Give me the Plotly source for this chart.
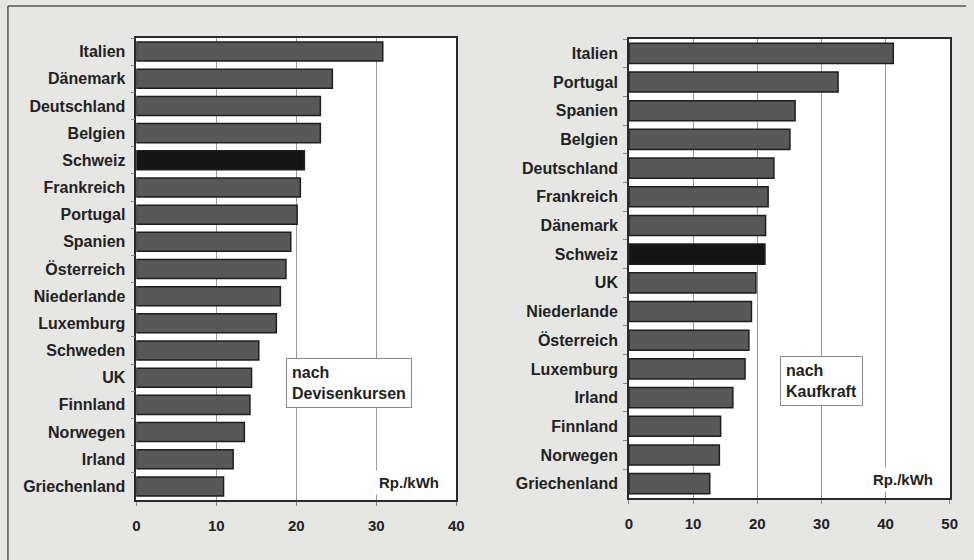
import plotly.graph_objects as go

# Strompreise Haushalte, Rp./kWh
laender_devisen = ["Italien", "Dänemark", "Deutschland", "Belgien", "Schweiz",
                   "Frankreich", "Portugal", "Spanien", "Österreich", "Niederlande",
                   "Luxemburg", "Schweden", "UK", "Finnland", "Norwegen", "Irland",
                   "Griechenland"]
werte_devisen = [30.8, 24.5, 23.0, 23.0, 21.0, 20.5, 20.1, 19.3, 18.7, 18.0,
                 17.5, 15.3, 14.4, 14.2, 13.5, 12.1, 10.9]

laender_kaufkraft = ["Italien", "Portugal", "Spanien", "Belgien", "Deutschland",
                     "Frankreich", "Dänemark", "Schweiz", "UK", "Niederlande",
                     "Österreich", "Luxemburg", "Irland", "Finnland", "Norwegen",
                     "Griechenland"]
werte_kaufkraft = [41.2, 32.6, 25.9, 25.1, 22.6, 21.7, 21.3, 21.2, 19.8, 19.1,
                   18.7, 18.1, 16.2, 14.3, 14.1, 12.6]

ticks_links = [0, 10, 20, 30, 40]
ticks_rechts = [0, 10, 20, 30, 40, 50]

W, H = 974, 560
FONT = "Liberation Sans"
BAR = "#585858"
HIGHLIGHT = "#151515"


def farben(laender):
    return [HIGHLIGHT if l == "Schweiz" else BAR for l in laender]


fig = go.Figure()

fig.add_trace(go.Bar(
    x=werte_devisen, y=laender_devisen, orientation="h",
    marker=dict(color=farben(laender_devisen), line=dict(color="#1e1e1e", width=1.5)),
    xaxis="x", yaxis="y", hoverinfo="x+y",
))
fig.add_trace(go.Bar(
    x=werte_kaufkraft, y=laender_kaufkraft, orientation="h",
    marker=dict(color=farben(laender_kaufkraft), line=dict(color="#1e1e1e", width=1.5)),
    xaxis="x2", yaxis="y2", hoverinfo="x+y",
))

xstyle = dict(showline=True, linecolor="#2a2a2a", linewidth=1.5, mirror=True,
              showgrid=True, gridcolor="#9a9a9a", gridwidth=1, zeroline=False,
              ticks="outside", ticklen=4, tickcolor="#888", ticklabelstandoff=7,
              tickfont=dict(family=FONT, size=15, color="#222", weight="bold"),
              fixedrange=True)
ystyle = dict(showline=True, linecolor="#2a2a2a", linewidth=1.5, mirror=True,
              showgrid=False, type="category", autorange="reversed",
              ticks="outside", ticklen=4, tickcolor="#888", tickson="boundaries",
              ticklabelstandoff=6,
              tickfont=dict(family=FONT, size=16, color="#222", weight="bold"),
              fixedrange=True)


def px_x(v):
    return v / W


def px_y(v):
    return 1 - v / H


fig.update_layout(
    width=W, height=H,
    margin=dict(l=0, r=0, t=0, b=0),
    paper_bgcolor="#e6e6e4",
    plot_bgcolor="white",
    showlegend=False,
    bargap=0.3,
    xaxis=dict(xstyle, domain=[px_x(134), px_x(458)], range=[0, 40],
               tickvals=ticks_links, anchor="y"),
    yaxis=dict(ystyle, domain=[px_y(500), px_y(38)], anchor="x",
               categoryorder="array", categoryarray=laender_devisen),
    xaxis2=dict(xstyle, domain=[px_x(632.7), px_x(957.5)], range=[0, 50],
                tickvals=ticks_rechts, anchor="y2"),
    yaxis2=dict(ystyle, domain=[px_y(498), px_y(39)], anchor="x2",
                categoryorder="array", categoryarray=laender_kaufkraft),
)

box = dict(xref="paper", yref="paper", showarrow=False, align="left",
           xanchor="left", yanchor="top", bgcolor="white",
           bordercolor="#8a8a8a", borderwidth=1, borderpad=5,
           font=dict(family=FONT, size=16, color="#222", weight="bold"))
fig.add_annotation(box, x=px_x(286), y=px_y(358), text="nach<br>Devisenkursen")
fig.add_annotation(box, x=px_x(786), y=px_y(356), text="nach<br>Kaufkraft")

unit = dict(xref="paper", yref="paper", showarrow=False, text="Rp./kWh",
            xanchor="right", yanchor="middle", bgcolor="white", borderpad=3,
            font=dict(family=FONT, size=15, color="#222", weight="bold"))
fig.add_annotation(unit, x=px_x(444), y=px_y(482))
fig.add_annotation(unit, x=px_x(945), y=px_y(479))

# Rahmen der gescannten Abbildung (oben und links sichtbar)
fig.add_shape(type="line", xref="paper", yref="paper",
              x0=px_x(4), x1=1, y0=px_y(6), y1=px_y(6),
              line=dict(color="#555", width=1.5))
fig.add_shape(type="line", xref="paper", yref="paper",
              x0=px_x(4), x1=px_x(4), y0=px_y(6), y1=0,
              line=dict(color="#555", width=1.5))

fig.write_html("out.html", config={"displayModeBar": False},
               post_script="document.body.style.margin='0';")
